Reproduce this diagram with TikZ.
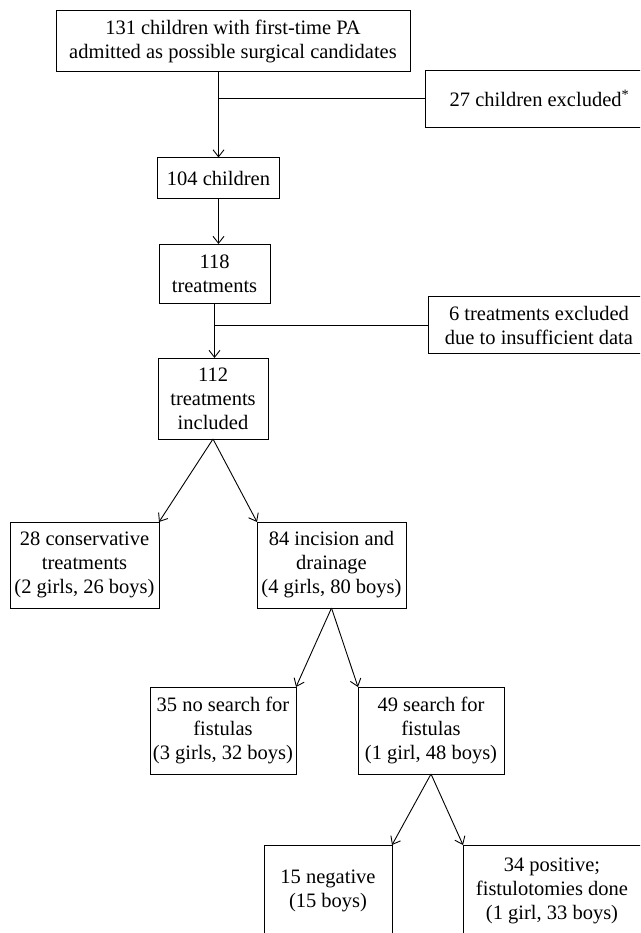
\documentclass[tikz,border=0pt]{standalone}
\usepackage{fontspec}
\setmainfont{Liberation Serif}
\usetikzlibrary{positioning,arrows.meta}

\begin{document}
\begin{tikzpicture}[x=1pt, y=-1pt, node distance = 0pt,
BoxStyle/.style={draw, line width=0.9pt, align=center, inner sep=0pt,
                outer sep=0pt, font=\fontsize{20.5}{24}\selectfont},
ArrowStyle/.style={line width=0.9pt, -{Straight Barb[length=7pt,width=11pt]}},
LineStyle/.style={line width=0.9pt},]
\clip (0,0) rectangle (640,933);
\node [BoxStyle, minimum width=354pt, minimum height=61pt] (top) at (233,41)
      {131 children with first-time PA\\admitted as possible surgical candidates};
\node [BoxStyle, minimum width=228pt, minimum height=57pt] (excl1) at (539.5,98.5)
      {27 children excluded\textsuperscript{*}};
\node [BoxStyle, minimum width=122pt, minimum height=41pt] (n104) at (218.5,178)
      {104 children};
\node [BoxStyle, minimum width=111pt, minimum height=59pt] (n118) at (214.5,273.5)
      {118\\treatments};
\node [BoxStyle, minimum width=222pt, minimum height=57pt] (excl2) at (539,325)
      {6 treatments excluded\\due to insufficient data};
\node [BoxStyle, minimum width=110pt, minimum height=81pt] (n112) at (213,398.5)
      {112\\treatments\\included};
\node [BoxStyle, minimum width=149pt, minimum height=86pt] (n28) at (84.5,565)
      {28 conservative\\treatments\\(2 girls, 26 boys)};
\node [BoxStyle, minimum width=149pt, minimum height=86pt, right=98pt of n28] (n84)
      {84 incision and\\drainage\\(4 girls, 80 boys)};
\node [BoxStyle, minimum width=146pt, minimum height=87pt] (n35) at (223,730.5)
      {35 no search for\\fistulas\\(3 girls, 32 boys)};
\node [BoxStyle, minimum width=146pt, minimum height=87pt, right=62pt of n35] (n49)
      {49 search for\\fistulas\\(1 girl, 48 boys)};
\node [BoxStyle, minimum width=128pt, minimum height=92pt] (n15) at (328,891)
      {15 negative\\(15 boys)};
\node [BoxStyle, minimum width=178pt, minimum height=92pt, right=71pt of n15] (n34)
      {34 positive;\\fistulotomies done\\(1 girl, 33 boys)};
% trunk
\draw [ArrowStyle] (top.south -| n104.north) -- (n104.north);
\draw [LineStyle] (n104.north |- excl1.west) -- (excl1.west);
\draw [ArrowStyle] (n104.south) -- (n104.south |- n118.north);
\draw [ArrowStyle] (n118.south) -- (n118.south |- n112.north);
\draw [LineStyle] (n118.south |- excl2.west) -- (excl2.west);
% branches
\draw [ArrowStyle] (n112.south) -- (n28.north east);
\draw [ArrowStyle] (n112.south) -- (n84.north west);
\draw [ArrowStyle] (n84.south) -- (n35.north east);
\draw [ArrowStyle] (n84.south) -- (n49.north west);
\draw [ArrowStyle] (n49.south) -- (n15.north east);
\draw [ArrowStyle] (n49.south) -- (n34.north west);
\end{tikzpicture}
\end{document}
